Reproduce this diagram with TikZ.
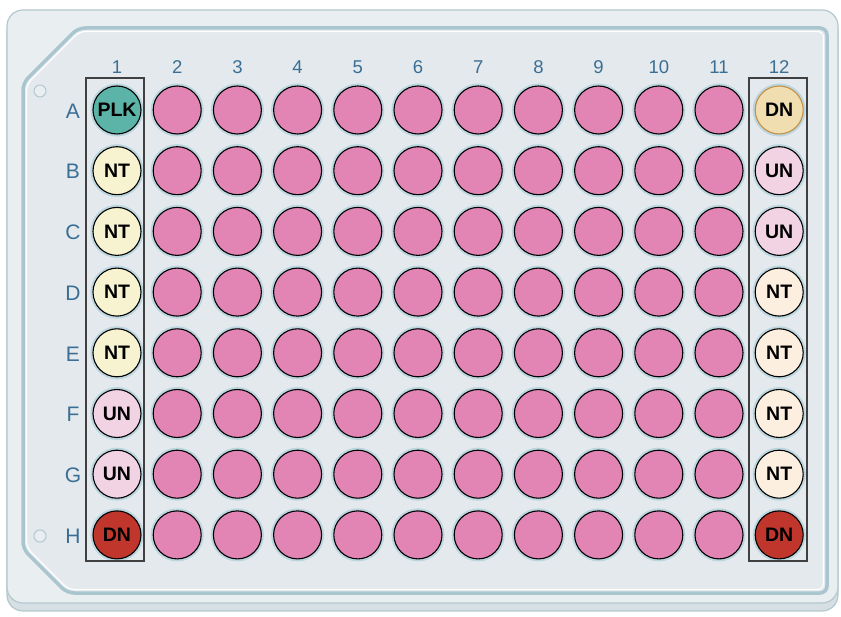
\documentclass[tikz,border=0pt]{standalone}
\usepackage{fontspec}
\setmainfont{Liberation Sans}
\definecolor{platebase}{HTML}{D6DFE3}
\definecolor{plateface}{HTML}{E9EEF1}
\definecolor{plateedge}{HTML}{B4C8CF}
\definecolor{frameface}{HTML}{E3E9EC}
\definecolor{frameedge}{HTML}{A9C6CF}
\definecolor{wellhalo}{HTML}{BCD6DF}
\definecolor{labelblue}{HTML}{3A6E94}
\definecolor{wellpink}{HTML}{E284B4}
\definecolor{plkteal}{HTML}{5CB3A7}
\definecolor{ntyellow}{HTML}{F7F3D0}
\definecolor{ntpeach}{HTML}{FDEFDF}
\definecolor{unpink}{HTML}{F2D3E3}
\definecolor{dnred}{HTML}{C0362C}
\definecolor{dntan}{HTML}{F0DDB0}
\definecolor{dntanedge}{HTML}{C39046}
\tikzset{
  well/.style={circle,draw=black,line width=1.1pt,minimum size=48pt,inner sep=0pt,
    fill=wellpink,font=\fontsize{19.5}{19.5}\selectfont\bfseries,
    preaction={draw=wellhalo,line width=5pt}},
  ctlplk/.style={fill=plkteal},
  ctlnty/.style={fill=ntyellow},
  ctlntp/.style={fill=ntpeach},
  ctlun/.style={fill=unpink},
  ctldnr/.style={fill=dnred},
  ctldnt/.style={fill=dntan,draw=dntanedge},
  collabel/.style={text=labelblue,font=\fontsize{18.5}{18.5}\selectfont},
  rowlabel/.style={text=labelblue,font=\fontsize{21}{21}\selectfont},
  ctlbox/.style={draw=black!75,line width=1.6pt},
  hole/.style={draw=plateedge,line width=1pt,fill=plateface}
}
\begin{document}
\begin{tikzpicture}[x=1pt,y=-1pt]
\useasboundingbox (0,0) rectangle (841,617);
\fill[white] (0,0) rectangle (841,617);
% plate body
\draw[plateedge,fill=platebase,line width=1.2pt,rounded corners=16pt] (7,16) rectangle (838,611);
\draw[plateedge,fill=plateface,line width=1.2pt,rounded corners=16pt] (7,10) rectangle (838,603);
\draw[frameedge,fill=frameface,line width=3.5pt,rounded corners=7pt]
  (78,28) -- (827,28) -- (827,593) -- (67,593) -- (23,549) -- (23,83) -- cycle;
\draw[white,line width=1.2pt,rounded corners=6pt]
  (79.5,31.5) -- (823.5,31.5) -- (823.5,589.5) -- (68.5,589.5) -- (26.5,547.5) -- (26.5,84.5) -- cycle;
\node[hole,circle,minimum size=12pt,inner sep=0pt] (hole-top) at (40,91) {};
\node[hole,circle,minimum size=12pt,inner sep=0pt] (hole-bot) at (40,536) {};
% labels
\foreach \c in {1,...,12}
  \node[collabel] (col-\c) at ({117+60.2*(\c-1)},67) {\c};
% sample wells
\foreach \r [count=\i from 0] in {A,B,C,D,E,F,G,H}{
  \node[rowlabel] (row-\r) at (73,{111+60.7*\i}) {\r};
  \foreach \c in {2,...,11}
    \node[well] (w-\r-\c) at ({117+60.2*(\c-1)},{110+60.7*\i}) {};
}
% control columns
\foreach \r/\lab/\kind [count=\i from 0] in {A/PLK/ctlplk,B/NT/ctlnty,C/NT/ctlnty,D/NT/ctlnty,
    E/NT/ctlnty,F/UN/ctlun,G/UN/ctlun,H/DN/ctldnr}
  \node[well,\kind] (w-\r-1) at (117,{110+60.7*\i}) {\lab};
\foreach \r/\lab/\kind [count=\i from 0] in {A/DN/ctldnt,B/UN/ctlun,C/UN/ctlun,D/NT/ctlntp,
    E/NT/ctlntp,F/NT/ctlntp,G/NT/ctlntp,H/DN/ctldnr}
  \node[well,\kind] (w-\r-12) at (779.2,{110+60.7*\i}) {\lab};
\draw[ctlbox] (86,78) rectangle (144,561);
\draw[ctlbox] (749,78) rectangle (807,561);
\end{tikzpicture}
\end{document}
